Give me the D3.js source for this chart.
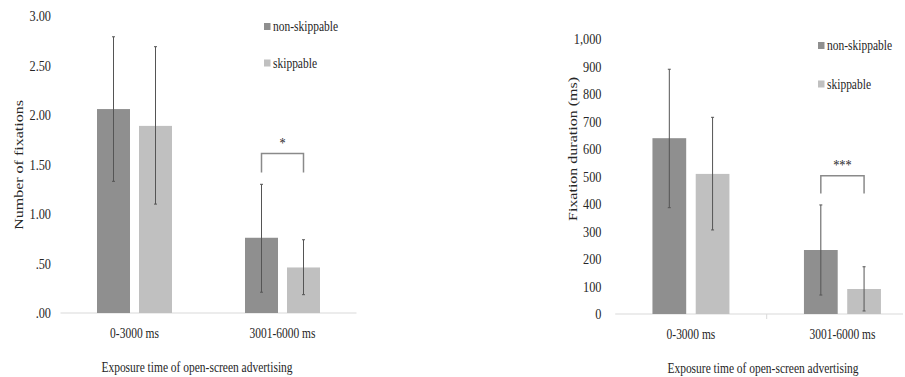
<!DOCTYPE html>
<html>
<head>
<meta charset="utf-8">
<script src="https://cdn.jsdelivr.net/npm/d3@7"></script>
<style>
  html, body { margin: 0; padding: 0; background: #fff; }
  svg { display: block; }
  text { font-family: "Liberation Serif", "DejaVu Serif", serif; fill: #262626; }
</style>
</head>
<body>
<svg id="chart" width="905" height="377"></svg>
<script>
// ---------- data ----------
const categories = ["0-3000 ms", "3001-6000 ms"];
const seriesNames = ["non-skippable", "skippable"];

// Left panel: Number of fixations
const fixCountMean = [[2.06, 1.89], [0.76, 0.46]];
const fixCountLow  = [[1.33, 1.10], [0.21, 0.185]];
const fixCountHigh = [[2.79, 2.69], [1.30, 0.74]];
const fixCountTicks = [0, 0.5, 1.0, 1.5, 2.0, 2.5, 3.0];
const fixCountTickLabels = [".00", ".50", "1.00", "1.50", "2.00", "2.50", "3.00"];
const fixCountSig = { label: "*", top: 1.61, leg: 1.42 };

// Right panel: Fixation duration (ms)
const fixDurMean = [[640, 510], [233, 91]];
const fixDurLow  = [[387, 306], [69, 11]];
const fixDurHigh = [[891, 716], [397, 172]];
const fixDurTicks = [0, 100, 200, 300, 400, 500, 600, 700, 800, 900, 1000];
const fixDurTickLabels = ["0", "100", "200", "300", "400", "500", "600", "700", "800", "900", "1,000"];
const fixDurSig = { label: "***", top: 503, leg: 439 };

const xTitle = "Exposure time of open-screen advertising";
const colors = ["#8f8f8f", "#c0c0c0"];
const SX = 0.82; // horizontal condensation of the original image

const svg = d3.select("#chart");

function txt(g, x, y, s, anchor, size, extra) {
  return g.append("text")
    .attr("transform", `translate(${x},${y}) scale(${SX},1)` + (extra || ""))
    .attr("text-anchor", anchor)
    .attr("font-family", "Liberation Serif, serif")
    .style("font-size", size + "px")
    .text(s);
}

function panel(cfg) {
  const g = svg.append("g");
  const y = d3.scaleLinear().domain(cfg.domain).range([cfg.y0, cfg.y1]);
  const x0 = d3.scaleBand().domain(categories).range([cfg.xL, cfg.xR]);
  const x1 = d3.scaleBand().domain(seriesNames).range([0, cfg.groupW]).paddingInner(cfg.pad);
  const gx = c => x0(c) + (x0.bandwidth() - cfg.groupW) / 2;

  // baseline
  g.append("line").attr("x1", cfg.xL).attr("x2", Math.min(cfg.xR, 903))
    .attr("y1", y(0)).attr("y2", y(0)).attr("stroke", "#d9d9d9").attr("stroke-width", 1);
  if (cfg.midTick) {
    g.append("line").attr("x1", x0(categories[1])).attr("x2", x0(categories[1]))
      .attr("y1", y(0)).attr("y2", y(0) + 5).attr("stroke", "#d9d9d9");
  }

  // y tick labels
  cfg.ticks.forEach((t, i) => {
    txt(g, cfg.tickX, y(t) + 5, cfg.tickLabels[i], "end", 15);
  });

  // bars
  categories.forEach((c, ci) => {
    seriesNames.forEach((s, si) => {
      const bx = gx(c) + x1(s);
      const v = cfg.mean[ci][si];
      g.append("rect").attr("x", bx).attr("y", y(v))
        .attr("width", x1.bandwidth()).attr("height", y(0) - y(v))
        .attr("fill", colors[si]);
    });
  });
  // error bars
  categories.forEach((c, ci) => {
    seriesNames.forEach((s, si) => {
      const cx = gx(c) + x1(s) + x1.bandwidth() / 2;
      const lo = y(cfg.low[ci][si]), hi = y(cfg.high[ci][si]);
      g.append("line").attr("x1", cx).attr("x2", cx).attr("y1", lo).attr("y2", hi)
        .attr("stroke", "#555").attr("stroke-width", 1);
      [lo, hi].forEach(yy => g.append("line").attr("x1", cx - 1.5).attr("x2", cx + 1.5)
        .attr("y1", yy).attr("y2", yy).attr("stroke", "#555").attr("stroke-width", 1));
    });
  });

  // significance bracket on second category
  const c2 = categories[1];
  const ax = gx(c2) + x1(seriesNames[0]) + x1.bandwidth() / 2;
  const bx = gx(c2) + x1(seriesNames[1]) + x1.bandwidth() / 2;
  g.append("path")
    .attr("d", `M${ax},${y(cfg.sig.leg)}V${y(cfg.sig.top)}H${bx}V${y(cfg.sig.leg)}`)
    .attr("fill", "none").attr("stroke", "#8a8a8a").attr("stroke-width", 1.5);
  txt(g, (ax + bx) / 2, y(cfg.sig.top) - 6, cfg.sig.label, "middle", 15);

  // category labels
  categories.forEach(c => txt(g, x0(c) + x0.bandwidth() / 2, cfg.catY, c, "middle", 14));
  // x title
  txt(g, cfg.xTitleX, cfg.xTitleY, xTitle, "middle", 14);
  // y title
  g.append("text")
    .attr("transform", `translate(${cfg.yTitleX},${cfg.yTitleY}) scale(${SX},1) rotate(-90)`)
    .attr("text-anchor", "middle").attr("dy", "0.35em")
    .attr("font-family", "Liberation Serif, serif")
    .style("font-size", cfg.yTitleSize + "px")
    .text(cfg.yTitle);

  // legend
  seriesNames.forEach((s, si) => {
    const ly = cfg.legY[si];
    g.append("rect").attr("x", cfg.legX).attr("y", ly - 3.5).attr("width", 6.5).attr("height", 7)
      .attr("fill", colors[si]);
    txt(g, cfg.legX + 9, ly + 4.5, s, "start", 14);
  });
}

panel({
  domain: [0, 3], y0: 313, y1: 16,
  xL: 60.5, xR: 356.5, groupW: 75, pad: 9 / 42,
  ticks: fixCountTicks, tickLabels: fixCountTickLabels, tickX: 51,
  mean: fixCountMean, low: fixCountLow, high: fixCountHigh, sig: fixCountSig,
  catY: 338, xTitleX: 197, xTitleY: 372,
  yTitle: "Number of fixations", yTitleX: 18, yTitleY: 165, yTitleSize: 16,
  legX: 264, legY: [26.5, 63], midTick: false
});

panel({
  domain: [0, 1000], y0: 314, y1: 39.3,
  xL: 615.2, xR: 918.2, groupW: 77, pad: 9.5 / 43.2,
  ticks: fixDurTicks, tickLabels: fixDurTickLabels, tickX: 601.5,
  mean: fixDurMean, low: fixDurLow, high: fixDurHigh, sig: fixDurSig,
  catY: 339, xTitleX: 763, xTitleY: 373,
  yTitle: "Fixation duration (ms)", yTitleX: 572, yTitleY: 149, yTitleSize: 16,
  legX: 818, legY: [45.5, 84], midTick: true
});
</script>
</body>
</html>
